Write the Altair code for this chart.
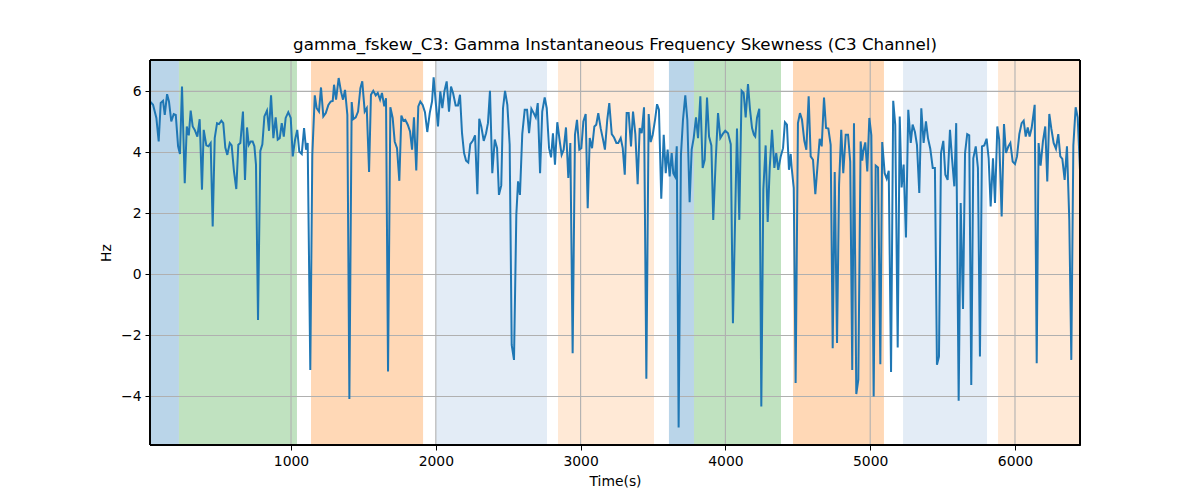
import altair as alt
import pandas as pd

# ---- line data: (time in s, skewness in Hz), in segments ----
seg1_t = [26, 47, 70, 86, 100, 116, 128, 144, 157, 173, 190, 204, 220, 233, 247, 266, 280, 294, 307, 321,
          335, 353, 369, 385, 397, 415, 429, 445, 459, 473, 489, 503, 519, 532, 546, 560, 577, 590, 606, 622,
          636, 650, 668, 682, 696, 708, 722, 735, 747, 758, 772, 788, 802, 816, 834]
seg1_v = [5.67, 5.56, 5.13, 4.36, 5.62, 5.69, 5.23, 5.91, 5.67, 5.02, 5.26, 5.23, 4.20, 3.95, 6.16, 2.99, 4.85, 4.56, 5.37, 4.85,
          4.74, 4.52, 5.09, 2.78, 4.74, 4.23, 4.20, 4.31, 1.57, 4.47, 4.96, 4.93, 5.04, 4.96, 4.16, 3.92, 4.31, 4.23, 3.38, 2.80,
          4.25, 4.31, 5.34, 3.10, 4.82, 4.25, 4.36, 4.36, 4.20, 3.60, -1.49, 4.05, 4.27, 5.18, 5.37]

seg2_t = [848, 862, 878, 894, 908, 922, 936, 950, 963, 981, 998, 1012, 1028, 1043, 1057, 1074, 1090, 1104, 1115, 1133,
          1147, 1164, 1177, 1193, 1207, 1223, 1240, 1258, 1274, 1288, 1297, 1311, 1329, 1345, 1359, 1373, 1389, 1403, 1419, 1430,
          1447, 1463, 1479, 1492, 1509, 1523, 1539, 1552, 1568, 1585, 1599, 1615, 1628, 1644]
seg2_v = [4.71, 5.87, 4.47, 5.15, 4.42, 4.47, 4.96, 4.52, 5.13, 5.32, 5.13, 3.87, 4.42, 4.74, 4.03, 3.95, 4.80, 4.09, 4.31, -3.13,
          3.92, 5.87, 5.45, 5.34, 6.13, 5.18, 5.29, 5.56, 5.67, 5.69, 6.22, 5.73, 6.44, 6.00, 5.73, 6.05, 5.23, -4.08, 5.65, 5.09,
          5.15, 5.34, 6.11, 6.33, 5.34, 5.45, 3.36, 5.89, 6.02, 5.87, 5.95, 5.73, 5.95, 5.51]

seg3_t = [1656, 1670, 1686, 1702, 1716, 1732, 1748, 1762, 1776, 1789, 1806, 1822, 1836, 1849, 1865, 1879, 1893, 1909, 1925, 1941,
          1958, 1974, 1985, 2001, 2015, 2031, 2045, 2059, 2075, 2091, 2105, 2119, 2137, 2153, 2167, 2181, 2195, 2209, 2224, 2238,
          2255, 2271, 2287, 2300, 2314, 2331, 2347, 2360, 2374, 2390, 2407, 2423, 2436, 2452]
seg3_v = [5.78, -3.18, 5.48, 5.13, 4.36, 4.14, 3.07, 5.21, 5.04, 5.07, 4.91, 4.69, 4.09, 5.15, 3.41, 5.51, 5.67, 5.56, 5.32, 4.67,
          5.29, 5.67, 6.46, 5.56, 4.85, 6.00, 5.45, 6.00, 6.33, 5.34, 6.16, 5.95, 5.54, 5.54, 5.89, 4.63, 3.98, 3.73, 3.67, 4.27,
          4.38, 4.56, 2.63, 5.10, 4.85, 4.38, 4.63, 4.96, 6.02, 3.32, 4.42, 4.14, 2.61, 2.92]

seg4_t = [2464, 2478, 2494, 2510, 2524, 2540, 2556, 2568, 2581, 2597, 2614, 2630, 2644, 2660, 2676, 2690, 2704, 2720, 2735, 2752,
          2766, 2782, 2796, 2809, 2823, 2839, 2856, 2869, 2883, 2899, 2915, 2929, 2945, 2961, 2975, 2991, 3005, 3019, 3035, 3049,
          3063, 3079, 3095, 3108, 3122, 3139, 3155, 3168, 3184, 3198, 3215, 3231, 3247, 3260]
seg4_v = [5.45, 6.02, 5.56, 4.25, -2.31, -2.80, 1.96, 3.05, 2.61, 4.60, 5.40, 5.40, 4.63, 5.43, 5.29, 5.15, 5.62, 3.32, 5.34, 5.80,
          5.45, 4.14, 3.84, 4.63, 3.60, 4.99, 4.36, 3.92, 4.09, 4.82, 3.16, 4.31, -2.58, 4.58, 5.07, 4.09, 4.14, 5.02, 5.26, 2.17,
          4.47, 4.14, 4.85, 4.91, 5.29, 4.78, 4.42, 4.09, 5.07, 5.62, 4.60, 4.49, 4.31, 4.31]

seg5_t = [3277, 3291, 3305, 3318, 3332, 3348, 3362, 3378, 3394, 3408, 3422, 3438, 3454, 3470, 3484, 3498, 3514, 3528, 3541, 3557,
          3574, 3588, 3601, 3615, 3629, 3640, 3652, 3664, 3677, 3693, 3707, 3723, 3737, 3753, 3767, 3781, 3797, 3811, 3827, 3843,
          3857, 3873, 3887, 3903, 3916, 3933, 3949, 3965, 3981, 3999, 4018, 4037, 4052]
seg5_v = [4.47, 4.14, 3.27, 5.29, 5.29, 4.20, 5.34, 4.60, 2.96, 4.80, 4.63, 5.48, -3.42, 5.26, 4.34, 4.58, 5.07, 5.58, 5.40, 2.48,
          4.58, 3.32, 4.09, 3.21, 3.98, 3.32, 3.21, 4.20, -5.02, 3.92, 5.07, 5.87, 5.07, 2.37, 4.09, 4.47, 5.15, 4.47, 5.84, 3.49,
          3.76, 5.80, 4.52, 4.23, 1.79, 3.73, 5.29, 4.47, 4.60, 4.71, 4.63, 4.27, -1.60]

seg6_t = [4080, 4096, 4112, 4126, 4140, 4156, 4170, 4184, 4197, 4206, 4218, 4234, 4248, 4262, 4278, 4292, 4306, 4322, 4338, 4351,
          4365, 4382, 4398, 4411, 4425, 4439, 4451, 4458, 4472, 4485, 4501, 4515, 4529, 4545, 4559, 4575, 4589, 4605, 4621, 4635,
          4651, 4665, 4681, 4695, 4711, 4727, 4741, 4755, 4771, 4785, 4800, 4814, 4831, 4847, 4862, 4876]
seg6_v = [4.78, 1.79, 6.02, 5.95, 5.15, 6.24, 5.40, 4.80, 4.58, 4.52, 5.13, 5.43, -4.33, 2.78, 4.23, 1.72, 3.49, 4.74, 3.49, 3.98,
          3.43, 3.87, 4.14, 4.99, 4.91, 3.43, 3.95, 3.49, 2.83, -3.56, 4.96, 5.29, 5.07, 4.38, 4.09, 5.84, 3.87, 3.76, 2.63, 3.49,
          4.45, 4.20, 5.80, 4.80, 4.78, 4.25, -2.42, 3.36, -2.25, 2.94, 4.74, 3.32, 4.58, 4.58, 3.70, -3.13]

seg7_t = [4888, 4904, 4918, 4934, 4945, 4952, 4966, 4980, 4994, 5008, 5024, 5038, 5054, 5070, 5083, 5100, 5114, 5128, 5144, 5159,
          5173, 5190, 5204, 5217, 5231, 5247, 5263, 5280, 5293, 5309, 5323, 5339, 5353, 5369, 5385, 5399, 5415, 5432, 5447, 5461,
          5475, 5489, 5505, 5519, 5535, 5551, 5565, 5581, 5594, 5611, 5625, 5641, 5655, 5670, 5684]
seg7_v = [4.96, -3.92, -3.45, 4.36, 3.73, 4.03, 4.33, 3.38, 5.13, 4.56, -4.00, 3.57, 3.51, -2.94, 4.34, 3.32, 3.14, 3.40, -3.20, 5.69,
          4.91, -2.39, 5.18, 2.85, 3.60, 1.21, 5.40, 4.31, 4.91, 4.67, 4.25, 2.67, 5.45, 4.31, 5.02, 4.47, 4.12, 3.49, 3.49, -2.96,
          -2.69, 3.98, 4.38, 3.27, 3.10, 4.74, 3.81, 2.89, 4.96, -4.14, 2.34, -1.13, 3.98, 4.60, 4.56]

seg8_t = [5698, 5712, 5729, 5744, 5758, 5772, 5788, 5804, 5818, 5832, 5848, 5862, 5878, 5891, 5908, 5924, 5938, 5954, 5968, 5984,
          6000, 6014, 6030, 6046, 6060, 6074, 6088, 6101, 6115, 6136, 6150, 6163, 6177, 6193, 6209, 6223, 6237, 6251, 6267, 6283,
          6299, 6313, 6327, 6343, 6359, 6375, 6389, 6403, 6419, 6433, 6449]
seg8_v = [-3.62, 3.81, 4.20, 3.49, -2.69, 4.20, 4.23, 4.45, 3.81, 2.23, 3.81, 2.34, 4.85, 4.42, 1.90, 4.93, 3.98, 4.20, 4.31, 3.70,
          3.62, 3.87, 4.60, 4.96, 5.04, 4.52, 4.82, 4.52, 4.80, 5.56, -2.91, 4.31, 3.57, 4.36, 4.85, 3.05, 5.26, 4.78, 4.31, 4.12,
          4.60, 3.87, 3.79, 3.10, 4.20, 1.79, -2.80, 4.23, 5.48, 5.15, 3.43]

time_s = seg1_t + seg2_t + seg3_t + seg4_t + seg5_t + seg6_t + seg7_t + seg8_t
hz = seg1_v + seg2_v + seg3_v + seg4_v + seg5_v + seg6_v + seg7_v + seg8_v

# ---- shaded background spans ----
span_start = [26, 226, 1138, 2001, 2844, 3610, 3783, 4467, 5227, 5883]
span_end = [226, 1041, 1912, 2768, 3507, 3783, 4384, 5095, 5807, 6449]
span_kind = ["blue", "green", "orange", "light blue", "light orange",
             "blue", "green", "orange", "light blue", "light orange"]

x_ticks = [1000, 2000, 3000, 4000, 5000, 6000]
y_ticks = [-4, -2, 0, 2, 4, 6]

X_DOMAIN = [26, 6449]
Y_DOMAIN = [-5.59, 7.03]

line_df = pd.DataFrame({"t": time_s, "v": hz})
span_df = pd.DataFrame({"start": span_start, "end": span_end, "kind": span_kind})
xgrid_df = pd.DataFrame({"x": x_ticks})
ygrid_df = pd.DataFrame({"y": y_ticks})

FONT = "DejaVu Sans"
W, H = 930, 385
xscale = alt.Scale(domain=X_DOMAIN, nice=False, zero=False)
yscale = alt.Scale(domain=Y_DOMAIN, nice=False, zero=False)

x_axis = alt.Axis(values=x_ticks, format="d", title="Time(s)", grid=False,
                  labelFlush=False, titlePadding=7, titleFontWeight="normal")
y_axis = alt.Axis(values=y_ticks, format="d", title="Hz", grid=False,
                  labelExpr="replace(datum.label, '-', '\u2212')", titlePadding=7,
                  titleFontWeight="normal")

spans = alt.Chart(span_df).mark_rect().encode(
    x=alt.X("start:Q", scale=xscale, axis=x_axis),
    x2="end:Q",
    color=alt.Color("kind:N", legend=None, scale=alt.Scale(
        domain=["blue", "green", "orange", "light blue", "light orange"],
        range=["#bad5e9", "#c0e2c0", "#ffd8b6", "#e3ecf6", "#ffe9d6"])),
)

xgrid = alt.Chart(xgrid_df).mark_rule(color="#b0b0b0", strokeWidth=1.1).encode(
    x=alt.X("x:Q", scale=xscale, axis=x_axis)
)
ygrid = alt.Chart(ygrid_df).mark_rule(color="#b0b0b0", strokeWidth=1.1).encode(
    y=alt.Y("y:Q", scale=yscale, axis=y_axis)
)

line = alt.Chart(line_df).mark_line(color="#1f77b4", strokeWidth=2, clip=True).encode(
    x=alt.X("t:Q", scale=xscale, axis=x_axis),
    y=alt.Y("v:Q", scale=yscale, axis=y_axis),
)

# axes frame drawn on top of the shaded spans
frame = alt.Chart(ygrid_df).mark_rect(fill=None, stroke="black", strokeWidth=1).encode(
    x=alt.value(0), x2=alt.value(W), y=alt.value(0), y2=alt.value(H)
)

chart = alt.layer(spans, xgrid, ygrid, line, frame).properties(
    width=W,
    height=H,
    autosize=alt.AutoSizeParams(type="none"),
    padding={"left": 142, "top": 52, "right": 10, "bottom": 47},
    background="white",
    title=alt.TitleParams(
        "gamma_fskew_C3: Gamma Instantaneous Frequency Skewness (C3 Channel)",
        font=FONT, fontSize=16.7, fontWeight="normal", color="black",
        anchor="middle", baseline="alphabetic", offset=8, dy=15,
    ),
).configure_view(
    stroke="black", strokeWidth=1
).configure_axis(
    labelFont=FONT, labelFontSize=13.9, labelColor="black",
    titleFont=FONT, titleFontSize=13.9, titleFontWeight="normal", titleColor="black",
    domainColor="black", domainWidth=1, tickColor="black", tickSize=5, tickWidth=1,
    labelPadding=4,
)

chart.save("out.html", embed_options={"renderer": "svg", "actions": False})
